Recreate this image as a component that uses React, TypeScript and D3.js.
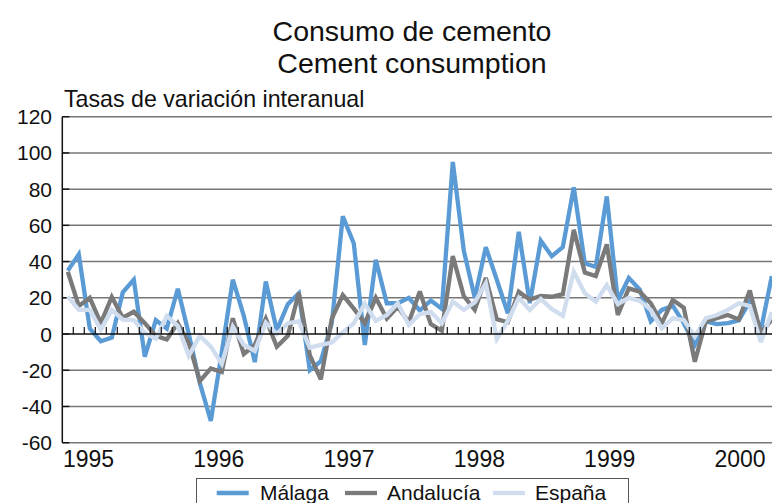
import React from "react";
import * as d3 from "d3";

const years = [1995, 1996, 1997, 1998, 1999, 2000];
const yTicks = [-60, -40, -20, 0, 20, 40, 60, 80, 100, 120];

const malaga = [
  35, 44, 3, -4, -2, 23, 30, -12.5, 7.7, 3, 25, 0,
  -27, -48, -10, 30, 10, -15.5, 29, 2, 16.5, 22.5, -20, -15,
  6, 65, 50, -6, 41, 17, 17, 20, 13, 18.5, 14, 95,
  46, 20, 48, 30, 11.5, 56.5, 17, 51.5, 43, 48, 81, 39,
  37, 76, 18.5, 31, 24.5, 7, 13.3, 15.5, 6, -6, 7, 5.5,
  6, 7.5, 18, 2, 32,
];
const andalucia = [
  34.4, 15.5, 20, 6, 20.5, 9, 12.3, 6, -1, -3, 6, -5,
  -26, -19, -21, 8.7, -11, -6, 8.5, -7, -1, 22.8, -11.6, -25,
  8.5, 21.5, 14, 6, 20, 8.5, 15, 6.5, 23.5, 5.5, 1.8, 43,
  21, 13.3, 31, 8.2, 6.5, 23.4, 19, 21, 20.6, 22, 57.5, 34,
  32, 49.5, 10.5, 25.2, 23.4, 17, 5.9, 18.8, 14.5, -15.3, 7, 8.7,
  10.5, 8, 24, 0.4, 8,
];
const espana = [
  20.6, 13.3, 13.3, 2.5, 13.3, 8, 7.7, 0.5, -2.5, 10, 4.5, -12,
  -1, -7, -16.5, 4, -6, -9.3, 6.3, 0, 6, 7, -7.5, -6,
  -4.7, 1, 5.9, 16.8, 7.2, 10.5, 17, 5, 11, 12.3, 5.9, 18,
  13.3, 17.5, 28, -2.7, 7.2, 20, 13.3, 19.3, 13.8, 10, 34.4, 22.5,
  17.9, 27, 16.5, 20, 18.3, 13.3, 3.1, 8.7, 7.7, -1.5, 8.7, 10.5,
  13.3, 17, 15.5, -4.5, 12,
];

const seriesNames = ["Málaga", "Andalucía", "España"];
const seriesColors = ["#5b9bd5", "#7a7a7a", "#d0ddef"];
const seriesData = [malaga, andalucia, espana];

const categories: string[] = d3
  .timeMonth.range(new Date(1995, 0, 1), new Date(2000, 5, 1))
  .map((d) => d3.timeFormat("%Y-%m")(d));

const FONT = "'Liberation Sans', Arial, Helvetica, sans-serif";

export default function App() {
  const W = 772;
  const H = 503;
  const left = 62.3;
  const step = 11;
  const axisRight = W;

  const x = d3
    .scalePoint<string>()
    .domain(categories)
    .range([left, left + categories.length * step])
    .padding(0.5);

  const y = d3.scaleLinear().domain([-60, 120]).range([442.7, 116.7]);

  const yearX = d3.scaleLinear().domain([1995, 2000]).range([88.5, 740]);

  const line = d3
    .line<number>()
    .x((_, i) => x(categories[i]) as number)
    .y((d) => y(d));

  const boundaries = d3.range(1, categories.length).map((k) => left + k * step);

  return (
    <svg
      width={W}
      height={H}
      style={{ position: "absolute", left: 0, top: 0, background: "#fff" }}
      fontFamily={FONT}
    >
      <rect x={0} y={0} width={W} height={H} fill="#fff" />
      <text x={412} y={41} textAnchor="middle" fontSize={28.5} fill="#111">
        Consumo de cemento
      </text>
      <text x={412} y={73} textAnchor="middle" fontSize={28.5} fill="#111">
        Cement consumption
      </text>
      <text x={64} y={107} fontSize={23.2} fill="#111">
        Tasas de variación interanual
      </text>

      {yTicks.map((t) => (
        <g key={t}>
          {t !== 0 && (
            <line
              x1={left}
              x2={axisRight}
              y1={y(t)}
              y2={y(t)}
              stroke="#777"
              strokeWidth={1.5}
            />
          )}
          <line x1={left} x2={left + 7} y1={y(t)} y2={y(t)} stroke="#111" strokeWidth={1.4} />
          <text x={52} y={y(t) + 7.5} textAnchor="end" fontSize={21} fill="#111">
            {t}
          </text>
        </g>
      ))}

      {seriesData.map((s, si) => (
        <path
          key={si}
          d={line(s) || ""}
          fill="none"
          stroke={seriesColors[si]}
          strokeWidth={4.3}
          strokeLinejoin="miter"
          strokeMiterlimit={3}
        />
      ))}

      <line x1={left} x2={axisRight} y1={y(0)} y2={y(0)} stroke="#111" strokeWidth={1.5} />
      {boundaries.map((bx, k) => (
        <line key={k} x1={bx} x2={bx} y1={y(0)} y2={y(0) - 7} stroke="#111" strokeWidth={1.2} />
      ))}
      <line x1={left} x2={left} y1={y(120)} y2={y(-60)} stroke="#111" strokeWidth={1.5} />

      {years.map((yr) => (
        <text key={yr} x={yearX(yr)} y={467} textAnchor="middle" fontSize={23} fill="#111">
          {yr}
        </text>
      ))}

      <rect x={196.5} y={478.5} width={432} height={40} fill="#fff" stroke="#555" strokeWidth={1} />
      {seriesNames.map((n, i) => {
        const lx = [216.7, 345, 493][i];
        const tx = [260, 387, 535][i];
        return (
          <g key={n}>
            <line x1={lx} x2={lx + 32} y1={493} y2={493} stroke={seriesColors[i]} strokeWidth={4.3} />
            <text x={tx} y={500} fontSize={21} fill="#111">
              {n}
            </text>
          </g>
        );
      })}
    </svg>
  );
}
